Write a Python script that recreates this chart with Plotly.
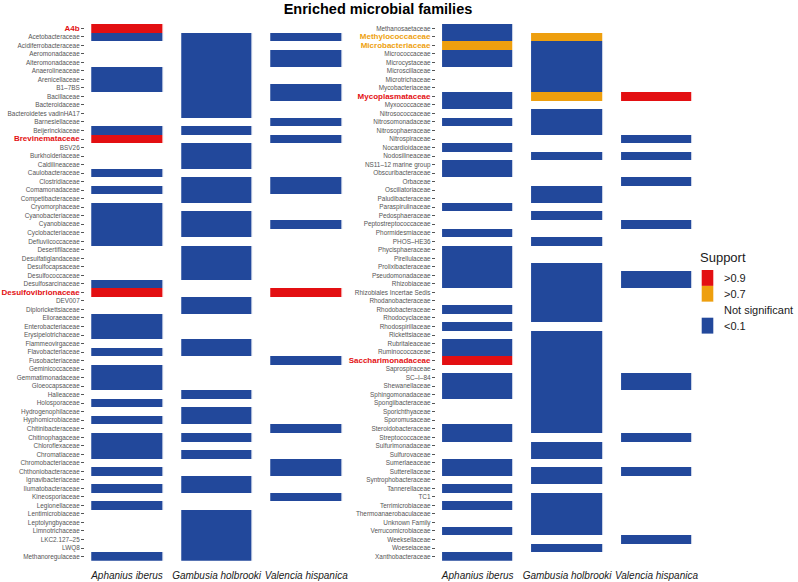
import plotly.graph_objects as go
import numpy as np

# ---------------- data ----------------
species = ["Aphanius iberus", "Gambusia holbrooki", "Valencia hispanica"]

families_left = [
    "A4b", "Acetobacteraceae", "Acidiferrobacteraceae", "Aeromonadaceae", "Alteromonadaceae",
    "Anaerolineaceae", "Arenicellaceae", "B1\u20137BS", "Bacillaceae", "Bacteroidaceae",
    "Bacteroidetes vadinHA17", "Barnesiellaceae", "Beijerinckiaceae", "Brevinemataceae", "BSV26",
    "Burkholderiaceae", "Caldilineaceae", "Caulobacteraceae", "Clostridiaceae", "Comamonadaceae",
    "Competibacteraceae", "Cryomorphaceae", "Cyanobacteriaceae", "Cyanobiaceae", "Cyclobacteriaceae",
    "Defluviicoccaceae", "Desertifilaceae", "Desulfatiglandaceae", "Desulfocapsaceae", "Desulfococcaceae",
    "Desulfosarcinaceae", "Desulfovibrionaceae", "DEV007", "Diplorickettsiaceae", "Elioraeaceae",
    "Enterobacteriaceae", "Erysipelotrichaceae", "Flammeovirgaceae", "Flavobacteriaceae", "Fusobacteriaceae",
    "Geminicoccaceae", "Gemmatimonadaceae", "Gloeocapsaceae", "Halieaceae", "Holosporaceae",
    "Hydrogenophilaceae", "Hyphomicrobiaceae", "Chitinibacteraceae", "Chitinophagaceae", "Chloroflexaceae",
    "Chromatiaceae", "Chromobacteriaceae", "Chthoniobacteraceae", "Ignavibacteriaceae", "Ilumatobacteraceae",
    "Kineosporiaceae", "Legionellaceae", "Lentimicrobiaceae", "Leptolyngbyaceae", "Limnotrichaceae",
    "LKC2.127\u201325", "LWQ8", "Methanoregulaceae",
]

families_right = [
    "Methanosaetaceae", "Methylococcaceae", "Microbacteriaceae", "Micrococcaceae", "Microcystaceae",
    "Microscillaceae", "Microtrichaceae", "Mycobacteriaceae", "Mycoplasmataceae", "Myxococcaceae",
    "Nitrosococcaceae", "Nitrosomonadaceae", "Nitrosophaeraceae", "Nitrospiraceae", "Nocardioidaceae",
    "Nodosilineaceae", "NS11\u201312 marine group", "Obscuribacteraceae", "Orbaceae", "Oscillatoriaceae",
    "Paludibacteraceae", "Paraspirulinaceae", "Pedosphaeraceae", "Peptostreptococcaceae", "Phormidesmiaceae",
    "PHOS\u2013HE36", "Phycisphaeraceae", "Pirellulaceae", "Prolixibacteraceae", "Pseudomonadaceae",
    "Rhizobiaceae", "Rhizobiales Incertae Sedis", "Rhodanobacteraceae", "Rhodobacteraceae", "Rhodocyclaceae",
    "Rhodospirillaceae", "Rickettsiaceae", "Rubritaleaceae", "Ruminococcaceae", "Saccharimonadaceae",
    "Saprospiraceae", "SC\u2013I\u201384", "Shewanellaceae", "Sphingomonadaceae", "Spongiibacteraceae",
    "Sporichthyaceae", "Sporomusaceae", "Steroidobacteraceae", "Streptococcaceae", "Sulfurimonadaceae",
    "Sulfurovaceae", "Sumerlaeaceae", "Sutterellaceae", "Syntrophobacteraceae", "Tannerellaceae",
    "TC1", "Terrimicrobiaceae", "Thermoanaerobaculaceae", "Unknown Family", "Verrucomicrobiaceae",
    "Weeksellaceae", "Woeseiaceae", "Xanthobacteraceae",
]

aphanius_gt09 = ["A4b", "Brevinemataceae", "Desulfovibrionaceae", "Saccharimonadaceae"]
aphanius_gt07 = ["Microbacteriaceae"]
aphanius_lt01 = [
    "Acetobacteraceae", "Anaerolineaceae", "Arenicellaceae", "B1\u20137BS", "Beijerinckiaceae",
    "Caulobacteraceae", "Comamonadaceae", "Cryomorphaceae", "Cyanobacteriaceae", "Cyanobiaceae",
    "Cyclobacteriaceae", "Defluviicoccaceae", "Desulfosarcinaceae", "Elioraeaceae", "Enterobacteriaceae",
    "Erysipelotrichaceae", "Flavobacteriaceae", "Geminicoccaceae", "Gemmatimonadaceae", "Gloeocapsaceae",
    "Holosporaceae", "Hyphomicrobiaceae", "Chitinophagaceae", "Chloroflexaceae", "Chromatiaceae",
    "Chthoniobacteraceae", "Ilumatobacteraceae", "Legionellaceae", "Methanoregulaceae",
    "Methanosaetaceae", "Methylococcaceae", "Micrococcaceae", "Microcystaceae", "Mycoplasmataceae",
    "Myxococcaceae", "Nitrosomonadaceae", "Nocardioidaceae", "NS11\u201312 marine group", "Obscuribacteraceae",
    "Paraspirulinaceae", "Phormidesmiaceae", "Phycisphaeraceae", "Pirellulaceae", "Prolixibacteraceae",
    "Pseudomonadaceae", "Rhizobiaceae", "Rhodobacteraceae", "Rhodospirillaceae", "Rubritaleaceae",
    "Ruminococcaceae", "SC\u2013I\u201384", "Shewanellaceae", "Sphingomonadaceae", "Steroidobacteraceae",
    "Streptococcaceae", "Sumerlaeaceae", "Sutterellaceae", "Tannerellaceae", "Terrimicrobiaceae",
    "Verrucomicrobiaceae", "Xanthobacteraceae",
]

gambusia_gt09 = []
gambusia_gt07 = ["Methylococcaceae", "Mycoplasmataceae"]
gambusia_lt01 = [
    "Acetobacteraceae", "Acidiferrobacteraceae", "Aeromonadaceae", "Alteromonadaceae", "Anaerolineaceae",
    "Arenicellaceae", "B1\u20137BS", "Bacillaceae", "Bacteroidaceae", "Bacteroidetes vadinHA17",
    "Beijerinckiaceae", "BSV26", "Burkholderiaceae", "Caldilineaceae", "Clostridiaceae",
    "Comamonadaceae", "Competibacteraceae", "Cyanobacteriaceae", "Cyanobiaceae", "Cyclobacteriaceae",
    "Desertifilaceae", "Desulfatiglandaceae", "Desulfocapsaceae", "Desulfococcaceae", "DEV007",
    "Diplorickettsiaceae", "Flammeovirgaceae", "Flavobacteriaceae", "Halieaceae", "Hydrogenophilaceae",
    "Hyphomicrobiaceae", "Chitinophagaceae", "Chromatiaceae", "Ignavibacteriaceae", "Ilumatobacteraceae",
    "Lentimicrobiaceae", "Leptolyngbyaceae", "Limnotrichaceae", "LKC2.127\u201325", "LWQ8",
    "Methanoregulaceae",
    "Microbacteriaceae", "Micrococcaceae", "Microcystaceae", "Microscillaceae", "Microtrichaceae",
    "Mycobacteriaceae", "Nitrosococcaceae", "Nitrosomonadaceae", "Nitrosophaeraceae", "Nodosilineaceae",
    "Oscillatoriaceae", "Paludibacteraceae", "Pedosphaeraceae", "PHOS\u2013HE36", "Prolixibacteraceae",
    "Pseudomonadaceae", "Rhizobiaceae", "Rhizobiales Incertae Sedis", "Rhodanobacteraceae", "Rhodobacteraceae",
    "Rhodocyclaceae", "Rickettsiaceae", "Rubritaleaceae", "Ruminococcaceae", "Saccharimonadaceae",
    "Saprospiraceae", "SC\u2013I\u201384", "Shewanellaceae", "Sphingomonadaceae", "Spongiibacteraceae",
    "Sporichthyaceae", "Sporomusaceae", "Steroidobacteraceae", "Sulfurimonadaceae", "Sulfurovaceae",
    "Sutterellaceae", "Syntrophobacteraceae", "TC1", "Terrimicrobiaceae", "Thermoanaerobaculaceae",
    "Unknown Family", "Verrucomicrobiaceae", "Woeseiaceae",
]

valencia_gt09 = ["Desulfovibrionaceae", "Mycoplasmataceae"]
valencia_gt07 = []
valencia_lt01 = [
    "Acetobacteraceae", "Aeromonadaceae", "Alteromonadaceae", "B1\u20137BS", "Bacillaceae",
    "Barnesiellaceae", "Brevinemataceae", "Clostridiaceae", "Comamonadaceae", "Cyanobiaceae",
    "Fusobacteriaceae", "Chitinibacteraceae", "Chromobacteriaceae", "Chthoniobacteraceae", "Kineosporiaceae",
    "Nitrospiraceae", "Nodosilineaceae", "Orbaceae", "Peptostreptococcaceae", "Pseudomonadaceae",
    "Rhizobiaceae", "SC\u2013I\u201384", "Shewanellaceae", "Streptococcaceae", "Sutterellaceae",
    "Weeksellaceae",
]

levels = [">0.9", ">0.7", "Not significant", "<0.1"]
level_colors = ["#E30F12", "#EE9F0E", "#FFFFFF", "#22489B"]

# ---------------- build matrices ----------------
support = [
    (aphanius_gt09, aphanius_gt07, aphanius_lt01),
    (gambusia_gt09, gambusia_gt07, gambusia_lt01),
    (valencia_gt09, valencia_gt07, valencia_lt01),
]


def code(fam, sp):
    gt09, gt07, lt01 = support[sp]
    if fam in gt09:
        return 2
    if fam in gt07:
        return 1
    if fam in lt01:
        return 0
    return np.nan


def matrix(fams):
    return [[code(f, s) for s in range(3)] for f in fams]


def label(fam):
    codes = [code(fam, s) for s in range(3)]
    if 2 in codes:
        c = level_colors[0]
    elif 1 in codes:
        c = level_colors[1]
    else:
        return fam
    return f"<b><span style='color:{c};font-size:8px'>{fam}</span></b>"


blue, orange, red = level_colors[3], level_colors[1], level_colors[0]
cscale = [[0, blue], [0.33, blue], [0.33, orange], [0.67, orange], [0.67, red], [1, red]]

W, H = 798, 582
fig = go.Figure()
for i, fams in enumerate([families_left, families_right]):
    sfx = "" if i == 0 else str(i + 1)
    fig.add_trace(go.Heatmap(
        x=species, y=fams, z=matrix(fams), zmin=0, zmax=2,
        colorscale=cscale, showscale=False, xgap=18.8, ygap=0,
        xaxis="x" + sfx, yaxis="y" + sfx, hoverinfo="skip",
    ))

ydom = [1 - 560.8 / H, 1 - 24.0 / H]
xfont = dict(family="Liberation Sans, Arial, sans-serif", size=10, color="#1a1a1a", style="italic")
yfont = dict(family="Liberation Sans, Arial, sans-serif", size=6.4, color="#555555")

for i, (fams, (l, r)) in enumerate(zip([families_left, families_right],
                                       [(85.0, 348.4), (435.8, 698.6)])):
    sfx = "" if i == 0 else str(i + 1)
    fig.update_layout(**{
        "xaxis" + sfx: dict(domain=[l / W, r / W], range=[-0.469, 2.471], showgrid=False,
                            zeroline=False, showline=False, ticks="", tickfont=xfont,
                            tickangle=0, automargin=False, ticklabelstandoff=7,
                            anchor="y" + sfx, fixedrange=True),
        "yaxis" + sfx: dict(domain=ydom, range=[len(fams) - 0.5, -0.5], showgrid=False,
                            zeroline=False, showline=False, ticks="outside", ticklen=3,
                            tickwidth=1, tickcolor="#555555", tickfont=yfont, automargin=False,
                            tickmode="array", tickvals=fams, ticktext=[label(f) for f in fams],
                            anchor="x" + sfx, fixedrange=True),
    })

# legend (drawn from levels / level_colors)
shapes = []
annotations = []
annotations.append(dict(x=698 / W, y=1 - 257.5 / H, xref="paper", yref="paper", text="Support",
                        showarrow=False, xanchor="left", yanchor="middle",
                        font=dict(family="Liberation Sans, Arial, sans-serif", size=13, color="#1a1a1a")))
box_h = 15.9
for k, (lev, col) in enumerate(zip(levels, level_colors)):
    y0 = 270.0 + k * box_h
    shapes.append(dict(type="rect", xref="paper", yref="paper",
                       x0=701.7 / W, x1=713.3 / W, y0=1 - y0 / H, y1=1 - (y0 + box_h) / H,
                       fillcolor=col, line=dict(width=0)))
    annotations.append(dict(x=722 / W, y=1 - (y0 + box_h / 2) / H, xref="paper", yref="paper",
                            text=lev, showarrow=False, xanchor="left", yanchor="middle",
                            font=dict(family="Liberation Sans, Arial, sans-serif", size=11, color="#1a1a1a")))

fig.update_layout(
    width=W, height=H, margin=dict(l=0, r=0, t=0, b=0, autoexpand=False),
    paper_bgcolor="white", plot_bgcolor="white", showlegend=False,
    title=dict(text="<b>Enriched microbial families</b>", x=378 / W, y=1 - 8.5 / H,
               xanchor="center", yanchor="middle", xref="paper", yref="paper",
               font=dict(family="Liberation Sans, Arial, sans-serif", size=14.5, color="#000000")),
    shapes=shapes, annotations=annotations,
)

fig.write_html("out.html", config={"displayModeBar": False},
               post_script="document.body.style.margin='0';")
